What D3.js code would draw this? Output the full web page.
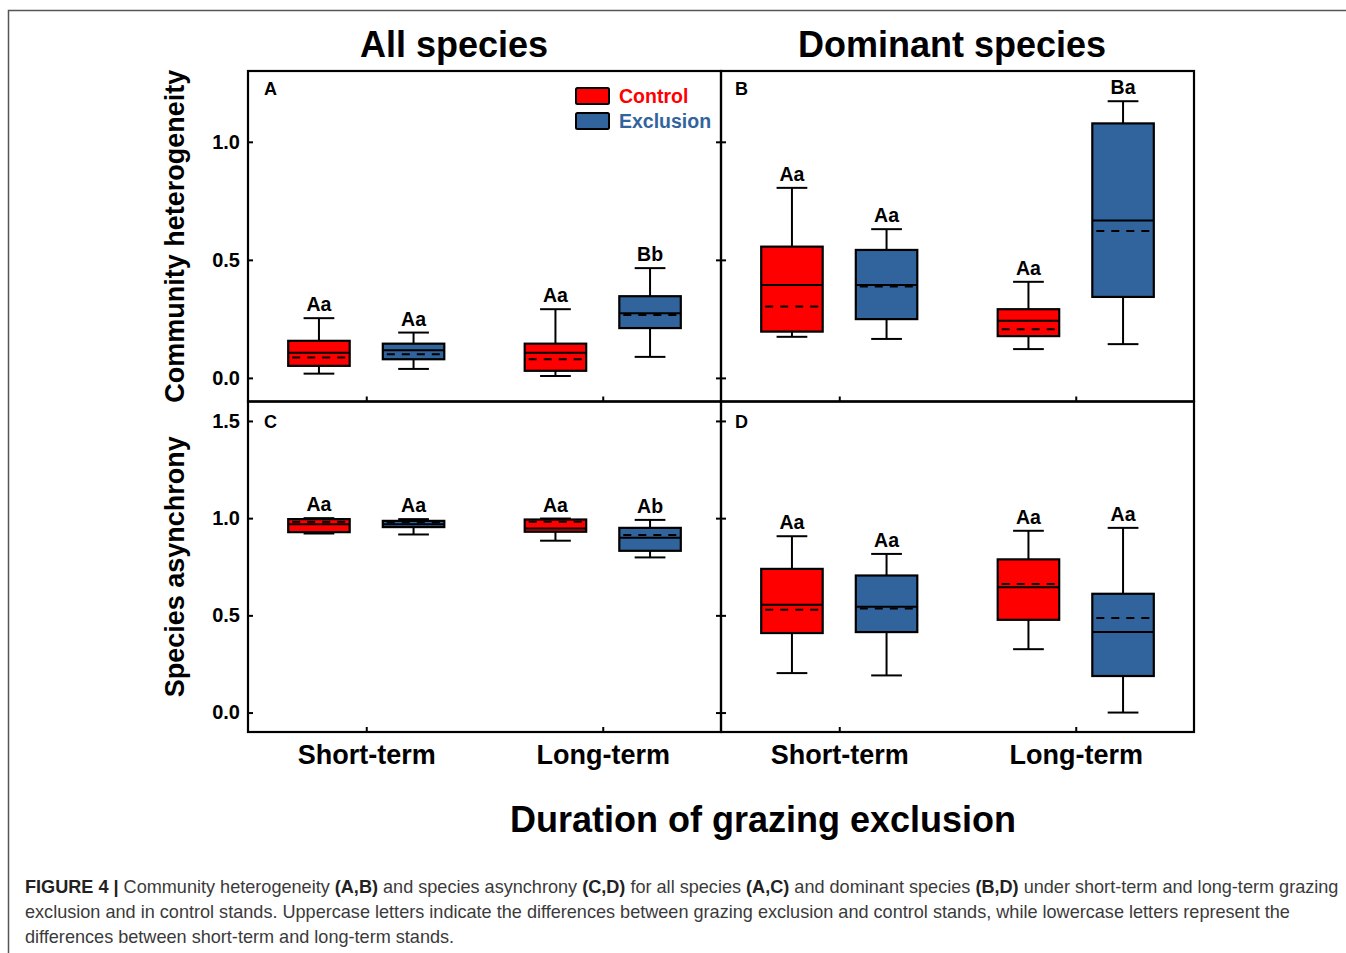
<!DOCTYPE html>
<html>
<head>
<meta charset="utf-8">
<script src="https://cdn.jsdelivr.net/npm/d3@7"></script>
<style>
  body { margin: 0; background: #fff; }
  svg text { font-family: Arial, "Liberation Sans", sans-serif; }
</style>
</head>
<body>
<div id="chart"></div>
<script>
// ---- data ----
var durations = ["Short-term", "Long-term"];
var treatments = ["Control", "Exclusion"];
// each box: [whisker low, q1, median, q3, whisker high, mean]
// order: Short/Control, Short/Exclusion, Long/Control, Long/Exclusion
var heteroAll = [
  [0.018, 0.051, 0.106, 0.157, 0.253, 0.086],
  [0.038, 0.079, 0.117, 0.145, 0.192, 0.100],
  [0.008, 0.030, 0.106, 0.145, 0.291, 0.079],
  [0.089, 0.211, 0.274, 0.346, 0.465, 0.266]
];
var heteroDom = [
  [0.174, 0.196, 0.394, 0.556, 0.805, 0.302],
  [0.165, 0.249, 0.394, 0.542, 0.630, 0.387],
  [0.122, 0.177, 0.242, 0.291, 0.407, 0.206],
  [0.143, 0.343, 0.667, 1.078, 1.172, 0.622]
];
var asyncAll = [
  [0.921, 0.928, 0.968, 0.995, 1.000, 0.981],
  [0.916, 0.954, 0.969, 0.986, 0.995, 0.978],
  [0.884, 0.930, 0.947, 0.993, 0.998, 0.981],
  [0.798, 0.832, 0.899, 0.950, 0.991, 0.913]
];
var asyncDom = [
  [0.203, 0.409, 0.554, 0.739, 0.907, 0.529],
  [0.191, 0.414, 0.544, 0.705, 0.816, 0.535],
  [0.326, 0.477, 0.644, 0.788, 0.935, 0.661],
  [0.000, 0.188, 0.414, 0.611, 0.950, 0.487]
];
var lettersA = ["Aa", "Aa", "Aa", "Bb"];
var lettersB = ["Aa", "Aa", "Aa", "Ba"];
var lettersC = ["Aa", "Aa", "Aa", "Ab"];
var lettersD = ["Aa", "Aa", "Aa", "Aa"];
var heteroTicks = [0, 0.5, 1.0];
var asyncTicks = [0, 0.5, 1.0, 1.5];
var colTitles = ["All species", "Dominant species"];
var rowTitles = ["Community heterogeneity", "Species asynchrony"];

var colors = { Control: "#ff0000", Exclusion: "#31649c" };

// ---- layout ----
var W = 1346, H = 953;
var plotLeft = 248, plotTop = 71, panelW = 473, panelH = 330.5;

var svg = d3.select("#chart").append("svg")
  .attr("width", W).attr("height", H);

// figure frame (top + left rule)
svg.append("path")
  .attr("d", "M8.5,953V10.5H1346")
  .attr("fill", "none").attr("stroke", "#555").attr("stroke-width", 1.5);

var panels = [
  { id: "A", row: 0, col: 0, data: heteroAll, letters: lettersA, domain: [-0.1, 1.3], ticks: heteroTicks },
  { id: "B", row: 0, col: 1, data: heteroDom, letters: lettersB, domain: [-0.1, 1.3], ticks: heteroTicks },
  { id: "C", row: 1, col: 0, data: asyncAll, letters: lettersC, domain: [-0.1, 1.6], ticks: asyncTicks },
  { id: "D", row: 1, col: 1, data: asyncDom, letters: lettersD, domain: [-0.1, 1.6], ticks: asyncTicks }
];

var x = d3.scalePoint().domain(durations).range([0, panelW]).padding(0.5);
var step = x.step();
var sub = d3.scalePoint().domain(treatments).range([-0.2 * step, 0.2 * step]);
var boxW = 0.26 * step, capW = 0.13 * step;

panels.forEach(function(p) {
  var g = svg.append("g")
    .attr("transform", "translate(" + (plotLeft + p.col * panelW) + "," + (plotTop + p.row * panelH) + ")");
  var y = d3.scaleLinear().domain(p.domain).range([panelH, 0]);

  // boxes
  var rows = [];
  durations.forEach(function(d, i) {
    treatments.forEach(function(t, j) {
      var v = p.data[i * 2 + j];
      rows.push({ dur: d, trt: t, lo: v[0], q1: v[1], med: v[2], q3: v[3], hi: v[4], mean: v[5], lab: p.letters[i * 2 + j] });
    });
  });

  var b = g.selectAll(".box").data(rows).join("g")
    .attr("class", "box")
    .attr("transform", function(d) { return "translate(" + (x(d.dur) + sub(d.trt)) + ",0)"; });

  b.append("line")
    .attr("y1", function(d) { return y(d.lo); }).attr("y2", function(d) { return y(d.hi); })
    .attr("stroke", "#000").attr("stroke-width", 2);
  b.append("line").attr("x1", -capW / 2).attr("x2", capW / 2)
    .attr("y1", function(d) { return y(d.hi); }).attr("y2", function(d) { return y(d.hi); })
    .attr("stroke", "#000").attr("stroke-width", 2);
  b.append("line").attr("x1", -capW / 2).attr("x2", capW / 2)
    .attr("y1", function(d) { return y(d.lo); }).attr("y2", function(d) { return y(d.lo); })
    .attr("stroke", "#000").attr("stroke-width", 2);
  b.append("rect")
    .attr("x", -boxW / 2).attr("width", boxW)
    .attr("y", function(d) { return y(d.q3); })
    .attr("height", function(d) { return y(d.q1) - y(d.q3); })
    .attr("fill", function(d) { return colors[d.trt]; })
    .attr("stroke", "#000").attr("stroke-width", 2.2);
  b.append("line").attr("x1", -boxW / 2).attr("x2", boxW / 2)
    .attr("y1", function(d) { return y(d.med); }).attr("y2", function(d) { return y(d.med); })
    .attr("stroke", "#000").attr("stroke-width", 2);
  b.append("line").attr("x1", -boxW / 2 + 4).attr("x2", boxW / 2 - 1)
    .attr("y1", function(d) { return y(d.mean); }).attr("y2", function(d) { return y(d.mean); })
    .attr("stroke", "#000").attr("stroke-width", 2).attr("stroke-dasharray", "8,7");
  b.append("text")
    .attr("y", function(d) { return y(d.hi) - 7; })
    .attr("text-anchor", "middle")
    .attr("font-size", 19.5).attr("font-weight", "bold")
    .text(function(d) { return d.lab; });

  // axes with inward ticks
  var yl = d3.axisLeft(y).tickValues(p.ticks).tickSizeInner(-5).tickSizeOuter(0).tickPadding(8)
    .tickFormat(d3.format(".1f"));
  var ya = g.append("g").call(yl);
  if (p.col === 1) ya.selectAll("text").remove();
  if (p.col === 0) {
    g.append("g").attr("transform", "translate(" + panelW + ",0)")
      .call(d3.axisRight(y).tickValues(p.ticks).tickSizeInner(-5).tickSizeOuter(0).tickFormat(""));
  }
  var xa = g.append("g").attr("transform", "translate(0," + panelH + ")")
    .call(d3.axisBottom(x).tickSizeInner(-5).tickSizeOuter(0).tickPadding(13));
  if (p.row === 0) xa.selectAll("text").remove();
  else xa.selectAll("text").attr("font-size", 27).attr("font-weight", "bold").attr("fill", "#000");

  g.selectAll(".domain").remove();
  g.selectAll(".tick line").attr("stroke", "#000").attr("stroke-width", 2);
  ya.selectAll("text").attr("font-size", 20).attr("font-weight", "bold").attr("fill", "#000");

  g.append("rect").attr("width", panelW).attr("height", panelH)
    .attr("fill", "none").attr("stroke", "#000").attr("stroke-width", 2.2);

  g.append("text")
    .attr("x", p.col === 0 ? 16 : 14).attr("y", p.row === 0 ? 24 : 26)
    .attr("font-size", 18).attr("font-weight", "bold").text(p.id);

  // legend in panel A
  if (p.id === "A") {
    var lg = g.selectAll(".leg").data(treatments).join("g")
      .attr("transform", function(d, i) { return "translate(" + (panelW - 145) + "," + (17 + i * 25) + ")"; });
    lg.append("rect").attr("width", 33).attr("height", 16).attr("rx", 1.5)
      .attr("fill", function(d) { return colors[d]; })
      .attr("stroke", "#000").attr("stroke-width", 2);
    lg.append("text").attr("x", 43).attr("y", 15)
      .attr("font-size", 19.5).attr("font-weight", "bold")
      .attr("fill", function(d) { return colors[d]; })
      .text(function(d) { return d; });
  }
});

// column titles
svg.selectAll(".coltitle").data(colTitles).join("text")
  .attr("x", function(d, i) { return [454, 952][i]; }).attr("y", 57)
  .attr("text-anchor", "middle").attr("font-size", 36).attr("font-weight", "bold")
  .text(function(d) { return d; });

// row titles
svg.selectAll(".rowtitle").data(rowTitles).join("text")
  .attr("transform", function(d, i) { return "translate(184," + (plotTop + panelH * (i + 0.5)) + ") rotate(-90)"; })
  .attr("text-anchor", "middle").attr("font-size", 27).attr("font-weight", "bold")
  .text(function(d) { return d; });

svg.append("text").attr("x", 763).attr("y", 832)
  .attr("text-anchor", "middle").attr("font-size", 36).attr("font-weight", "bold")
  .text("Duration of grazing exclusion");

// caption
var caption = [
  [["FIGURE 4 | ", true], ["Community heterogeneity ", false], ["(A,B)", true], [" and species asynchrony ", false], ["(C,D)", true],
   [" for all species ", false], ["(A,C)", true], [" and dominant species ", false], ["(B,D)", true],
   [" under short-term and long-term grazing", false]],
  [["exclusion and in control stands. Uppercase letters indicate the differences between grazing exclusion and control stands, while lowercase letters represent the", false]],
  [["differences between short-term and long-term stands.", false]]
];
caption.forEach(function(line, i) {
  var t = svg.append("text").attr("x", 25).attr("y", 893 + i * 25)
    .attr("font-size", 18.1).attr("fill", "#333");
  line.forEach(function(s) {
    t.append("tspan").attr("font-weight", s[1] ? "bold" : "normal")
      .attr("fill", s[1] ? "#222" : "#3a3a3a").text(s[0]);
  });
});
</script>
</body>
</html>
